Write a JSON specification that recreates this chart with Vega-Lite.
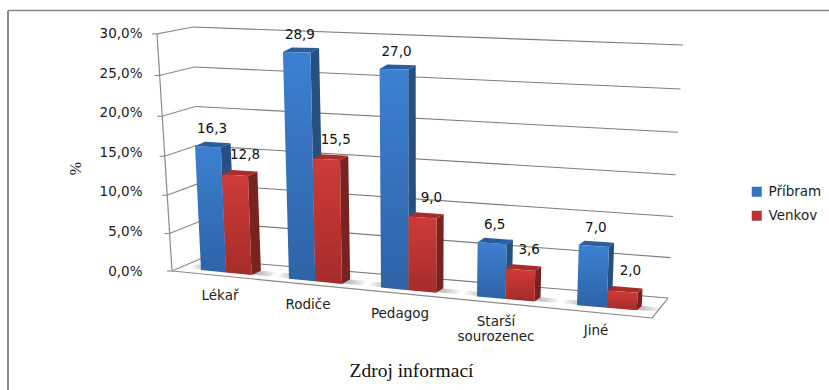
{
  "$schema": "https://vega.github.io/schema/vega-lite/v6.json",
  "width": 829,
  "height": 390,
  "autosize": "none",
  "padding": 0,
  "background": "white",
  "view": {"stroke": null},
  "datasets": {
    "sloupce": [
      {"zdroj": "Lékař", "serie": "Příbram", "hodnota": 16.3},
      {"zdroj": "Lékař", "serie": "Venkov", "hodnota": 12.8},
      {"zdroj": "Rodiče", "serie": "Příbram", "hodnota": 28.9},
      {"zdroj": "Rodiče", "serie": "Venkov", "hodnota": 15.5},
      {"zdroj": "Pedagog", "serie": "Příbram", "hodnota": 27.0},
      {"zdroj": "Pedagog", "serie": "Venkov", "hodnota": 9.0},
      {"zdroj": "Starší|sourozenec", "serie": "Příbram", "hodnota": 6.5},
      {"zdroj": "Starší|sourozenec", "serie": "Venkov", "hodnota": 3.6},
      {"zdroj": "Jiné", "serie": "Příbram", "hodnota": 7.0},
      {"zdroj": "Jiné", "serie": "Venkov", "hodnota": 2.0}
    ],
    "mrizka": [
      {"t": 0}, {"t": 5}, {"t": 10}, {"t": 15}, {"t": 20}, {"t": 25}, {"t": 30}
    ]
  },
  "data": {"name": "sloupce"},
  "transform": [
    {"calculate": "indexof(['Lékař','Rodiče','Pedagog','Starší|sourozenec','Jiné'], datum.zdroj) + (datum.serie === 'Venkov' ? 0.29 : 0)", "as": "u0"},
    {"calculate": "['bok','vrch','celo']", "as": "stena"},
    {"flatten": ["stena"]},
    {"calculate": "[0,1,2,3]", "as": "roh"},
    {"flatten": ["roh"]},
    {"calculate": "datum.stena === 'bok' ? 1 : [0,1,1,0][datum.roh]", "as": "a"},
    {"calculate": "datum.stena === 'vrch' ? datum.hodnota : [0,0,1,1][datum.roh] * datum.hodnota", "as": "vv"},
    {"calculate": "datum.stena === 'bok' ? [0,1,1,0][datum.roh] : datum.stena === 'vrch' ? [0,0,1,1][datum.roh] : 0", "as": "d"},
    {"calculate": "datum.u0 + 0.29 * datum.a", "as": "uc"},
    {"calculate": "datum.uc + datum.uc * datum.uc / 43 + datum.vv * (-0.00426 + 0.00182 * datum.uc) + datum.d * (0.116 - 0.0128 * datum.uc)", "as": "px"},
    {"calculate": "0.127 - 1.114 * datum.uc + datum.vv * (0.962 + 0.0316 * datum.uc) + datum.d * 0.55", "as": "py"}
  ],
  "encoding": {
    "x": {"field": "px", "type": "quantitative", "scale": {"domain": [-2.337, 7.302], "nice": false, "zero": false}, "axis": {"title": "Zdroj informací", "values": [], "domain": false, "ticks": false, "labels": false, "grid": false, "titleFont": "Liberation Serif", "titleFontSize": 19.5, "titleFontWeight": "normal", "titleColor": "#111111", "titleX": 411, "titleY": -20, "titleAlign": "center", "titleBaseline": "middle"}},
    "y": {"field": "py", "type": "quantitative", "scale": {"domain": [-15.06, 34.3], "nice": false, "zero": false}, "axis": {"title": "%", "values": [0, 5, 10, 15, 20, 25, 30], "offset": -142, "domain": false, "ticks": false, "grid": false, "labelPadding": 0, "labelFont": "DejaVu Sans", "labelFontSize": 13.5, "labelColor": "#222222", "labelExpr": "replace(format(datum.value, '.1f'), '.', ',') + '%'", "encoding": {"labels": {"dx": {"signal": "(30 - datum.value) * 14 / 30"}}}, "titleFont": "Liberation Serif", "titleFontSize": 16, "titleFontWeight": "normal", "titleColor": "#222222", "titleAngle": -90, "titleX": -67, "titleY": 168, "titleAlign": "center", "titleBaseline": "middle"}}
  },
  "layer": [
    {
      "data": {"values": [
        {"xa": -2.244, "ya": 32.97, "xb": 7.302, "yb": 32.97, "sirka": 1.6},
        {"xa": -2.244, "ya": 32.97, "xb": -2.244, "yb": -15.06, "sirka": 2}
      ]},
      "transform": [],
      "mark": {"type": "rule", "color": "#8a8a8a"},
      "encoding": {
        "x": {"field": "xa", "type": "quantitative"},
        "y": {"field": "ya", "type": "quantitative"},
        "x2": {"field": "xb"},
        "y2": {"field": "yb"},
        "strokeWidth": {"field": "sirka", "type": "quantitative", "scale": null, "legend": null}
      }
    },
    {
      "data": {"name": "mrizka"},
      "transform": [
        {"calculate": "-0.337 - 0.00581 * datum.t", "as": "xa"},
        {"calculate": "0.937 * datum.t + 0.00211 * datum.t * datum.t", "as": "ya"},
        {"calculate": "-0.0116 - 0.00271 * datum.t", "as": "xb"},
        {"calculate": "1.519 + 0.937 * datum.t + 0.00139 * datum.t * datum.t", "as": "yb"}
      ],
      "mark": {"type": "rule", "color": "#8a8a8a", "strokeWidth": 1.1},
      "encoding": {
        "x": {"field": "xa", "type": "quantitative"},
        "y": {"field": "ya", "type": "quantitative"},
        "x2": {"field": "xb"},
        "y2": {"field": "yb"}
      }
    },
    {
      "data": {"name": "mrizka"},
      "transform": [
        {"calculate": "-0.337 - 0.00581 * datum.t", "as": "xa"},
        {"calculate": "0.937 * datum.t + 0.00211 * datum.t * datum.t", "as": "ya"},
        {"calculate": "datum.xa - 0.058", "as": "xb"}
      ],
      "mark": {"type": "rule", "color": "#8a8a8a", "strokeWidth": 1.1},
      "encoding": {
        "x": {"field": "xa", "type": "quantitative"},
        "y": {"field": "ya", "type": "quantitative"},
        "x2": {"field": "xb"}
      }
    },
    {
      "data": {"name": "mrizka"},
      "transform": [
        {"calculate": "-0.0116 - 0.00271 * datum.t", "as": "xa"},
        {"calculate": "1.519 + 0.937 * datum.t + 0.00139 * datum.t * datum.t", "as": "ya"},
        {"calculate": "5.430 + 0.00581 * datum.t", "as": "xb"},
        {"calculate": "-3.418 + 1.013 * datum.t + 0.00181 * datum.t * datum.t", "as": "yb"}
      ],
      "mark": {"type": "rule", "color": "#7d7d7d", "strokeWidth": 1.1},
      "encoding": {
        "x": {"field": "xa", "type": "quantitative"},
        "y": {"field": "ya", "type": "quantitative"},
        "x2": {"field": "xb"},
        "y2": {"field": "yb"}
      }
    },
    {
      "data": {"values": [
        {"xa": -0.337, "ya": 0, "xb": -0.511, "yb": 30},
        {"xa": -0.337, "ya": 0, "xb": 5.244, "yb": -5.949},
        {"xa": 5.244, "ya": -5.949, "xb": 5.430, "yb": -3.418}
      ]},
      "transform": [],
      "mark": {"type": "rule", "color": "#8a8a8a", "strokeWidth": 1.2},
      "encoding": {
        "x": {"field": "xa", "type": "quantitative"},
        "y": {"field": "ya", "type": "quantitative"},
        "x2": {"field": "xb"},
        "y2": {"field": "yb"}
      }
    },
    {
      "transform": [
        {"filter": "datum.serie === 'Příbram' && datum.stena === 'celo'"},
        {"calculate": "datum.u0 + [-0.16, 0.78, 0.78, -0.16][datum.roh]", "as": "us"},
        {"calculate": "[0.1, 0.1, 1.0, 1.0][datum.roh]", "as": "ds"},
        {"calculate": "datum.us + datum.us * datum.us / 43 + datum.ds * (0.116 - 0.0128 * datum.us)", "as": "px"},
        {"calculate": "0.127 - 1.114 * datum.us + datum.ds * 0.55", "as": "py"}
      ],
      "mark": {"type": "line", "stroke": null, "fill": {"gradient": "linear", "x1": 0, "y1": 0, "x2": 1, "y2": 0, "stops": [{"offset": 0, "color": "rgba(120,120,120,0)"}, {"offset": 0.2, "color": "rgba(120,120,120,0.45)"}, {"offset": 0.8, "color": "rgba(120,120,120,0.45)"}, {"offset": 1, "color": "rgba(120,120,120,0)"}]}},
      "encoding": {"detail": {"field": "zdroj"}, "order": {"field": "roh"}}
    },
    {
      "transform": [{"filter": "datum.serie === 'Příbram' && datum.stena === 'bok'"}],
      "mark": {"type": "line", "fill": "#25507f", "stroke": null, "interpolate": "linear"},
      "encoding": {"detail": {"field": "zdroj"}, "order": {"field": "roh"}}
    },
    {
      "transform": [{"filter": "datum.serie === 'Příbram' && datum.stena === 'vrch'"}],
      "mark": {"type": "line", "fill": "#2a5d9c", "stroke": null},
      "encoding": {"detail": {"field": "zdroj"}, "order": {"field": "roh"}}
    },
    {
      "transform": [{"filter": "datum.serie === 'Příbram' && datum.stena === 'celo'"}],
      "mark": {"type": "line", "stroke": null, "fill": {"gradient": "linear", "x1": 0, "y1": 0, "x2": 0, "y2": 1, "stops": [{"offset": 0, "color": "#3d80d2"}, {"offset": 1, "color": "#2e63a6"}]}},
      "encoding": {"detail": {"field": "zdroj"}, "order": {"field": "roh"}}
    },
    {
      "transform": [{"filter": "datum.serie === 'Venkov' && datum.stena === 'bok'"}],
      "mark": {"type": "line", "fill": "#7a2220", "stroke": null},
      "encoding": {"detail": {"field": "zdroj"}, "order": {"field": "roh"}}
    },
    {
      "transform": [{"filter": "datum.serie === 'Venkov' && datum.stena === 'vrch'"}],
      "mark": {"type": "line", "fill": "#a82c2a", "stroke": null},
      "encoding": {"detail": {"field": "zdroj"}, "order": {"field": "roh"}}
    },
    {
      "transform": [{"filter": "datum.serie === 'Venkov' && datum.stena === 'celo'"}],
      "mark": {"type": "line", "stroke": null, "fill": {"gradient": "linear", "x1": 0, "y1": 0, "x2": 0, "y2": 1, "stops": [{"offset": 0, "color": "#ce3b38"}, {"offset": 1, "color": "#a52c2a"}]}},
      "encoding": {"detail": {"field": "zdroj"}, "order": {"field": "roh"}}
    },
    {
      "transform": [
        {"filter": "datum.serie === 'Příbram' && datum.stena === 'celo' && datum.roh === 3"},
        {"calculate": "replace(format(datum.hodnota, '.1f'), '.', ',')", "as": "popisek"}
      ],
      "mark": {"type": "text", "font": "DejaVu Sans", "fontSize": 13.5, "color": "#111111", "dx": 17, "dy": -17, "baseline": "middle", "align": "center"},
      "encoding": {"text": {"field": "popisek"}}
    },
    {
      "transform": [
        {"filter": "datum.serie === 'Venkov' && datum.stena === 'celo' && datum.roh === 3"},
        {"calculate": "replace(format(datum.hodnota, '.1f'), '.', ',')", "as": "popisek"}
      ],
      "mark": {"type": "text", "font": "DejaVu Sans", "fontSize": 13.5, "color": "#111111", "dx": 23, "dy": -19, "baseline": "middle", "align": "center"},
      "encoding": {"text": {"field": "popisek"}}
    },
    {
      "transform": [
        {"filter": "datum.serie === 'Příbram' && datum.stena === 'celo' && datum.roh === 0"}
      ],
      "mark": {"type": "text", "font": "DejaVu Sans", "fontSize": 13.5, "color": "#222222", "lineBreak": "|", "lineHeight": 15, "dx": 19, "dy": 19, "baseline": "top", "align": "center"},
      "encoding": {"text": {"field": "zdroj"}}
    },
    {
      "mark": {"type": "square", "size": 0, "opacity": 0},
      "encoding": {
        "color": {"field": "serie", "type": "nominal", "title": null, "scale": {"domain": ["Příbram", "Venkov"], "range": ["#3672bd", "#bb3330"]}, "legend": {"orient": "none", "legendX": 750, "legendY": 185, "symbolType": "square", "symbolSize": 100, "symbolOpacity": 1, "labelFont": "DejaVu Sans", "labelFontSize": 13.5, "labelColor": "#222222", "rowPadding": 9, "labelOffset": 5}}
      }
    }
  ]
}
